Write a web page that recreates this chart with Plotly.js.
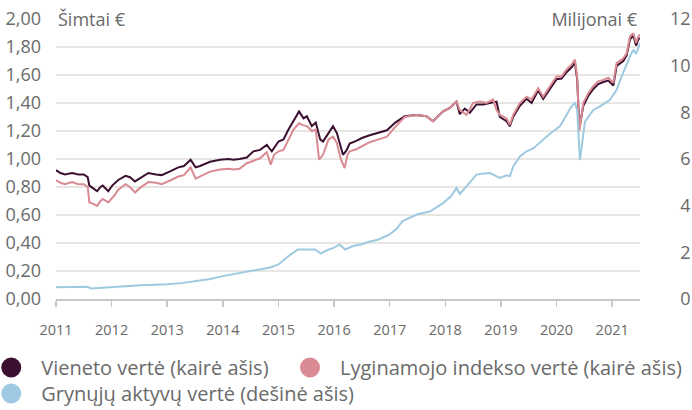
<!DOCTYPE html>
<html>
<head>
<meta charset="utf-8">
<script src="https://cdn.plot.ly/plotly-3.0.1.min.js"></script>
<style>html,body{margin:0;padding:0;background:#fff;}#chart{width:692px;height:410px;}</style>
</head>
<body>
<div id="chart"></div>
<script>
// Vieneto vertė (left axis, hundreds €)
var unitYears = [2011.00,2011.08,2011.16,2011.29,2011.40,2011.50,2011.57,2011.60,2011.67,2011.74,2011.80,2011.84,2011.94,2012.01,2012.12,2012.25,2012.33,2012.42,2012.50,2012.66,2012.80,2012.90,2013.07,2013.20,2013.30,2013.42,2013.51,2013.59,2013.77,2013.95,2014.10,2014.19,2014.30,2014.43,2014.55,2014.67,2014.79,2014.88,2015.00,2015.09,2015.18,2015.27,2015.37,2015.45,2015.51,2015.60,2015.67,2015.75,2015.80,2015.90,2015.98,2016.05,2016.12,2016.16,2016.22,2016.28,2016.40,2016.50,2016.64,2016.80,2016.95,2017.10,2017.27,2017.48,2017.66,2017.78,2017.96,2018.08,2018.20,2018.26,2018.35,2018.44,2018.56,2018.68,2018.80,2018.92,2018.98,2019.10,2019.16,2019.22,2019.34,2019.46,2019.55,2019.67,2019.76,2019.88,2020.00,2020.09,2020.18,2020.27,2020.33,2020.37,2020.41,2020.48,2020.57,2020.66,2020.75,2020.84,2020.93,2021.02,2021.08,2021.20,2021.26,2021.32,2021.38,2021.43,2021.47,2021.50];
var unitValues = [0.92,0.90,0.89,0.90,0.89,0.89,0.87,0.81,0.79,0.77,0.80,0.81,0.77,0.81,0.85,0.88,0.87,0.84,0.86,0.90,0.89,0.885,0.915,0.94,0.95,0.995,0.94,0.95,0.98,0.995,1.00,0.995,1.00,1.01,1.055,1.065,1.10,1.055,1.125,1.14,1.21,1.27,1.34,1.29,1.305,1.235,1.26,1.14,1.125,1.185,1.235,1.185,1.08,1.03,1.06,1.11,1.13,1.15,1.17,1.19,1.205,1.26,1.305,1.315,1.305,1.27,1.34,1.365,1.41,1.32,1.36,1.33,1.39,1.39,1.40,1.41,1.30,1.27,1.235,1.30,1.38,1.43,1.40,1.49,1.43,1.50,1.57,1.575,1.62,1.655,1.69,1.57,1.22,1.38,1.45,1.50,1.535,1.55,1.56,1.525,1.665,1.70,1.74,1.855,1.88,1.81,1.855,1.865];

// Lyginamojo indekso vertė (left axis)
var indexYears = [2011.00,2011.08,2011.16,2011.29,2011.40,2011.50,2011.57,2011.60,2011.67,2011.74,2011.80,2011.84,2011.94,2012.05,2012.12,2012.25,2012.33,2012.42,2012.50,2012.66,2012.80,2012.90,2013.07,2013.20,2013.30,2013.42,2013.51,2013.59,2013.77,2013.95,2014.10,2014.19,2014.30,2014.43,2014.55,2014.67,2014.79,2014.86,2014.92,2015.00,2015.09,2015.18,2015.27,2015.37,2015.45,2015.51,2015.60,2015.67,2015.73,2015.80,2015.90,2015.98,2016.05,2016.12,2016.19,2016.24,2016.28,2016.40,2016.50,2016.64,2016.80,2016.95,2017.10,2017.27,2017.48,2017.66,2017.78,2017.96,2018.08,2018.20,2018.26,2018.38,2018.50,2018.62,2018.74,2018.86,2018.92,2018.98,2019.10,2019.16,2019.22,2019.34,2019.46,2019.55,2019.67,2019.76,2019.88,2020.00,2020.09,2020.18,2020.27,2020.33,2020.37,2020.41,2020.48,2020.57,2020.66,2020.75,2020.84,2020.93,2021.02,2021.08,2021.20,2021.26,2021.32,2021.38,2021.43,2021.47,2021.50];
var indexValues = [0.85,0.83,0.82,0.835,0.82,0.82,0.80,0.69,0.68,0.665,0.70,0.715,0.69,0.74,0.78,0.82,0.80,0.76,0.79,0.835,0.83,0.82,0.85,0.875,0.885,0.94,0.86,0.875,0.91,0.925,0.93,0.925,0.93,0.97,0.99,1.005,1.05,0.96,1.03,1.055,1.065,1.14,1.21,1.255,1.24,1.235,1.20,1.21,0.995,1.03,1.14,1.16,1.115,1.00,0.935,1.03,1.055,1.07,1.09,1.12,1.14,1.16,1.23,1.30,1.315,1.305,1.27,1.34,1.365,1.41,1.35,1.315,1.40,1.41,1.40,1.425,1.35,1.315,1.29,1.245,1.315,1.40,1.445,1.425,1.505,1.445,1.52,1.59,1.59,1.64,1.675,1.71,1.59,1.20,1.40,1.47,1.52,1.555,1.565,1.58,1.545,1.685,1.72,1.755,1.875,1.90,1.83,1.875,1.89];

// Grynųjų aktyvų vertė (right axis, millions €)
var assetYears = [2011.00,2011.30,2011.57,2011.63,2011.80,2012.00,2012.25,2012.52,2012.75,2013.00,2013.25,2013.48,2013.75,2014.00,2014.25,2014.50,2014.70,2014.85,2015.00,2015.18,2015.35,2015.50,2015.66,2015.76,2015.88,2016.00,2016.10,2016.20,2016.34,2016.50,2016.61,2016.80,2017.00,2017.12,2017.23,2017.50,2017.72,2017.96,2018.10,2018.20,2018.26,2018.38,2018.56,2018.70,2018.80,2018.98,2019.10,2019.16,2019.22,2019.34,2019.46,2019.58,2019.70,2019.88,2020.06,2020.18,2020.27,2020.33,2020.37,2020.42,2020.46,2020.51,2020.66,2020.78,2020.96,2021.08,2021.17,2021.26,2021.32,2021.38,2021.43,2021.50];
var assetValues = [0.50,0.50,0.52,0.45,0.47,0.50,0.55,0.59,0.60,0.63,0.68,0.75,0.85,0.98,1.08,1.21,1.29,1.35,1.48,1.84,2.12,2.12,2.12,1.95,2.10,2.20,2.34,2.12,2.27,2.35,2.44,2.55,2.77,3.00,3.34,3.63,3.75,4.11,4.40,4.76,4.50,4.83,5.33,5.38,5.40,5.19,5.30,5.26,5.68,6.11,6.33,6.45,6.70,7.08,7.40,7.90,8.26,8.40,8.10,5.95,6.80,7.60,8.10,8.26,8.54,8.97,9.54,10.11,10.40,10.69,10.50,10.97];

var yearTicks = [2011,2012,2013,2014,2015,2016,2017,2018,2019,2020,2021];
var rightTickVals = [0,2,4,6,8,10,12];
var rightTickText = ['\u20070','\u20072','\u20074','\u20076','\u20078','10','12'];
var seriesNames = ['Vieneto vertė (kairė ašis)','Lyginamojo indekso vertė (kairė ašis)','Grynųjų aktyvų vertė (dešinė ašis)'];
var seriesColors = ['#3b0f2f','#d98a93','#9ecae1'];
var legendIds = ['legend','legend3','legend2'];

var traces = [
  {x: assetYears, y: assetValues, yaxis: 'y2', mode: 'lines', line: {color: seriesColors[2], width: 2}, showlegend: false, hoverinfo: 'skip'},
  {x: unitYears, y: unitValues, mode: 'lines', line: {color: seriesColors[0], width: 2}, showlegend: false, hoverinfo: 'skip'},
  {x: indexYears, y: indexValues, mode: 'lines', line: {color: seriesColors[1], width: 2}, showlegend: false, hoverinfo: 'skip'}
];
for (var i = 0; i < 3; i++) {
  traces.push({x: [null], y: [null], mode: 'markers', name: seriesNames[i], legend: legendIds[i],
    marker: {color: seriesColors[i], size: 16, line: {color: seriesColors[i], width: 4}}, showlegend: true});
}

var fontFamily = '"Open Sans", "Noto Sans", sans-serif';
var textColor = '#6a6a6a';
var legendFont = {size: 20, color: textColor, family: fontFamily};
function legendBox(x, y) {
  return {orientation: 'h', x: x, xanchor: 'left', y: y, yanchor: 'top',
    font: legendFont, bgcolor: 'rgba(0,0,0,0)', itemwidth: 50, traceorder: 'normal'};
}
var layout = {
  width: 692, height: 410,
  margin: {l: 56, r: 52, t: 19, b: 111, pad: 0, autoexpand: false},
  paper_bgcolor: '#ffffff', plot_bgcolor: '#ffffff',
  font: {family: fontFamily, color: textColor, size: 18},
  separators: ',.',
  showlegend: true,
  xaxis: {
    type: 'linear', range: [2011, 2021.5], tickvals: yearTicks, tickformat: 'd',
    ticks: 'outside', ticklen: 6, tickwidth: 1.5, tickcolor: '#c8c8c8',
    showline: true, linecolor: '#c8c8c8', linewidth: 1.5,
    showgrid: false, zeroline: false, tickfont: {size: 14.5, color: textColor},
    ticklabelstandoff: 11, fixedrange: true
  },
  yaxis: {
    range: [0, 2], dtick: 0.2, tick0: 0, tickformat: '.2f',
    showgrid: true, gridcolor: '#e7e6e2', gridwidth: 1.5,
    zeroline: false, showline: false, ticks: '',
    tickfont: {size: 18, color: textColor}, ticklabelstandoff: 14, fixedrange: true
  },
  yaxis2: {
    overlaying: 'y', side: 'right', range: [0, 12],
    tickvals: rightTickVals, ticktext: rightTickText,
    showgrid: false, zeroline: false, showline: false, ticks: '',
    tickfont: {size: 18, color: textColor}, ticklabelstandoff: 29, fixedrange: true
  },
  legend: legendBox(-0.128, -0.175),
  legend3: legendBox(0.3836, -0.175),
  legend2: legendBox(-0.128, -0.268),
  annotations: [
    {xref: 'paper', yref: 'paper', x: 0, y: 1, xanchor: 'left', yanchor: 'middle',
     text: 'Šimtai €\u00a0\u00a0\u00a0\u00a0\u00a0', showarrow: false, bgcolor: '#ffffff',
     font: {size: 18, color: textColor, family: fontFamily}},
    {xref: 'paper', yref: 'paper', x: 1, y: 1, xanchor: 'right', yanchor: 'middle',
     text: '\u00a0\u00a0\u00a0\u00a0\u00a0Milijonai €', showarrow: false, bgcolor: '#ffffff',
     font: {size: 18, color: textColor, family: fontFamily}}
  ]
};

Plotly.newPlot('chart', traces, layout, {displayModeBar: false, staticPlot: true});
</script>
</body>
</html>
